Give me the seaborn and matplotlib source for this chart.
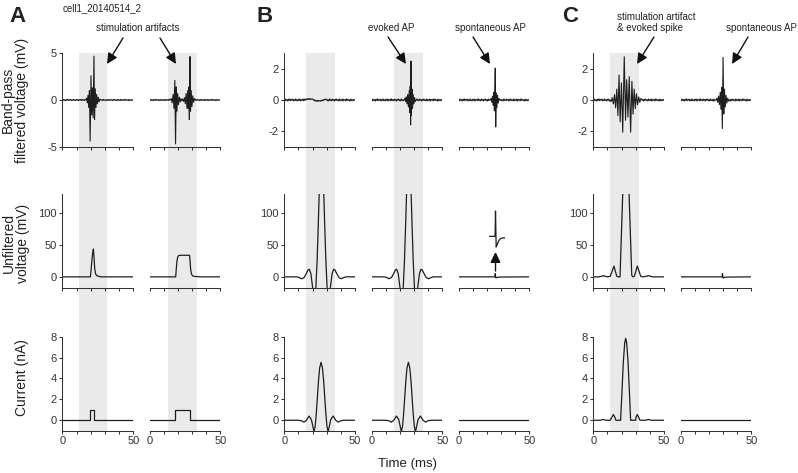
import numpy as np
import matplotlib
matplotlib.use("Agg")
import matplotlib.pyplot as plt
from matplotlib.patches import FancyArrowPatch
import seaborn as sns

sns.set_style("ticks")
plt.rcParams['font.family'] = ['Liberation Sans', 'DejaVu Sans']
plt.rcParams['axes.linewidth'] = 0.75
plt.rcParams['axes.unicode_minus'] = False

W, H = 798, 473

# ---------------- data (time in ms) ----------------
# baseline noise of the band-pass traces, sampled every 0.5 ms
bp_noise = [0.03, -0.05, 0.06, -0.03, 0.02, -0.07, 0.05, -0.02, 0.07, -0.05,
            0.03, -0.01, 0.06, -0.06, 0.02, -0.04, 0.07, -0.04, 0.01, -0.06,
            0.05, -0.02, 0.06, -0.07, 0.03, -0.01, 0.05, -0.05, 0.07, -0.03,
            0.02, -0.05, 0.06, -0.02, 0.03, -0.07, 0.05, -0.01, 0.06, -0.04,
            0.02, -0.06, 0.07, -0.03, 0.01, -0.05, 0.06, -0.07, 0.03, -0.02,
            0.05, -0.06, 0.02, -0.03, 0.07, -0.01, 0.04, -0.07, 0.06, -0.02,
            0.03, -0.05, 0.01, -0.06, 0.07, -0.03, 0.02, -0.05, 0.06, -0.01,
            0.03, -0.07, 0.05, -0.02, 0.06, -0.03, 0.01, -0.06, 0.07, -0.04,
            0.02, -0.03, 0.06, -0.07, 0.04, -0.01, 0.03, -0.06, 0.07, -0.02,
            0.05, -0.03, 0.01, -0.07, 0.06, -0.04, 0.02, -0.05, 0.03, -0.02,
            0.04]

# band-pass filtered voltage (mV): oscillation vertices of each event
a1_bp_t = [16.5, 17.1, 17.6, 18.1, 18.6, 19.1, 19.6, 20.2, 20.7, 21.2, 21.7,
           22.3, 22.7, 23.2, 23.7, 24.2, 24.7, 25.3, 25.9, 26.5, 27.1]
a1_bp_v = [0.0, 0.2, -0.3, 0.5, -0.8, 1.0, -4.4, 2.6, -1.6, 1.3, -1.9,
           4.7, -2.1, 1.2, -0.8, 0.6, -0.4, 0.3, -0.2, 0.1, 0.0]
a2_bp_t = [14.5, 15.2, 15.9, 16.6, 17.2, 17.8, 18.3, 18.8, 19.3, 19.8, 20.4,
           21.0, 21.6, 22.2, 22.8, 23.4, 24.0, 24.6, 25.2, 25.8, 26.4, 26.9,
           27.3, 27.7, 28.1, 28.5, 28.9, 29.4, 29.9, 30.5, 31.1, 31.7, 32.4]
a2_bp_v = [0.0, 0.15, -0.3, 0.6, -0.9, 2.1, -4.7, 1.4, -1.2, 0.7, -0.5,
           0.3, -0.2, 0.15, -0.1, 0.1, -0.15, 0.25, -0.4, 0.7, -0.9, 1.0,
           -0.9, 1.4, -2.1, 4.65, -1.2, 1.0, -0.7, 0.45, -0.25, 0.15, 0.0]
b1_bp_t = np.arange(15.0, 30.5, 0.5)
b1_bp_v = [0.05, 0.01, 0.08, 0.03, 0.10, 0.04, 0.09, 0.02, 0.08, 0.05, 0.07,
           0.0, 0.02, -0.06, -0.01, -0.08, -0.03, -0.09, -0.02, -0.07, -0.04,
           -0.08, -0.01, -0.06, 0.0, -0.04, 0.03, 0.01, 0.06, 0.02, 0.05]
b2_bp_t = [23.0, 23.5, 24.0, 24.5, 25.0, 25.5, 26.0, 26.6, 27.0, 27.3, 27.55,
           27.8, 28.1, 28.5, 28.9, 29.4, 29.9, 30.4, 30.9, 31.5]
b2_bp_v = [0.0, 0.12, -0.1, 0.2, -0.25, 0.35, -0.45, 0.6, -0.8, 0.9, -1.6,
           2.5, -1.0, 0.7, -0.55, 0.35, -0.25, 0.15, -0.1, 0.0]
b3_bp_t = [22.5, 23.0, 23.5, 24.0, 24.5, 24.9, 25.3, 25.6, 25.9, 26.2, 26.6,
           27.0, 27.5, 28.0, 28.6, 29.2]
b3_bp_v = [0.0, 0.1, -0.15, 0.25, -0.35, 0.5, -0.7, 0.6, 2.05, -1.73, 0.45,
           -0.5, 0.3, -0.2, 0.1, 0.0]
c1_bp_t = [12.0, 12.6, 13.4, 14.2, 15.0, 15.8, 16.6, 17.4, 18.2, 19.0, 19.9,
           20.8, 21.9, 22.8, 23.6, 24.5, 25.4, 26.4, 27.3, 28.1, 28.9, 29.7,
           30.5, 31.3, 32.1, 32.9, 33.7, 34.5]
c1_bp_v = [0.0, -0.1, 0.15, -0.25, 0.35, -0.5, 0.7, -1.0, 1.6, -1.4, 1.1,
           -2.07, 2.78, -1.3, 1.3, -1.1, 1.5, -2.07, 1.2, -0.9, 0.7, -0.55,
           0.4, -0.3, 0.2, -0.15, 0.1, 0.0]
c2_bp_t = [25.0, 25.6, 26.2, 26.8, 27.4, 28.0, 28.5, 29.0, 29.5, 30.0, 30.5,
           31.0, 31.5, 32.1, 32.7, 33.3, 34.0, 34.6]
c2_bp_v = [0.0, 0.12, -0.15, 0.25, -0.3, 0.5, -0.6, 0.8, -1.83, 2.74, -0.9,
           0.7, -0.45, 0.3, -0.2, 0.12, -0.08, 0.0]

# unfiltered voltage (mV)
a1_raw_t = [0, 19.8, 20.3, 20.8, 21.3, 21.9, 22.3, 22.8, 23.4, 24.2, 25.5, 27, 50]
a1_raw_v = [0, 0, 12, 25, 36, 44, 32, 14, 5, 2, 1, 0, 0]
a2_raw_t = [0, 18.4, 18.8, 19.3, 19.8, 20.5, 21.5, 28.2, 28.6, 29.0, 29.5,
            30.2, 31.0, 33, 36, 50]
a2_raw_v = [0, 0, 12, 25, 31, 33.5, 34, 34, 25, 12, 5, 2, 1, 0.5, 0, 0]
b_raw_t = [0, 9, 10.5, 12.3, 14, 15.5, 16.8, 17.7, 18.8, 20.1, 21.2, 22.3,
           23.2, 24.0, 24.8, 25.6, 26.3, 27.0, 27.8, 28.6, 29.4, 30.3, 31.4,
           32.5, 33.8, 34.9, 35.8, 37.1, 38.6, 40.3, 42.1, 43.6, 50]
b_raw_v = [0, 0, -1, -3, -1, 5, 11, 12, 5, -18, -30, -18,
           25, 80, 140, 190, 210, 190, 140, 80, 25, -18, -30,
           -18, 5, 12, 11, 5, -1, -3, -1, 0, 0]
b3_raw_t = [0, 25.6, 25.9, 26.2, 26.6, 27.2, 28.5, 50]
b3_raw_v = [0, 0, 5, -1.2, -1.5, -0.8, -0.3, 0]
c1_raw_t = [0, 4, 6, 7, 8.5, 10, 12, 13.5, 14.6, 15.7, 16.6, 17.5, 18.9,
            20.8, 23.05, 25.3, 27.2, 28.1, 29, 30, 31.1, 32.2, 33.5, 35,
            37.5, 38.9, 40.3, 42, 50]
c1_raw_v = [0, 0, 1, 2, 1, 0, 1, 10, 17, 8, 1, 0, 0,
            130, 283, 130, 2, 0, 1, 8, 17, 10, 1, 0,
            1, 2, 1, 0, 0]
c2_raw_t = [0, 29.3, 29.6, 29.9, 30.3, 31.0, 33.0, 50]
c2_raw_v = [0, 0, 5, -1.2, -1.6, -0.8, -0.3, 0]

# magnified spontaneous AP (inset in B, unfiltered row)
spont_zoom_t = [0, 5.5, 5.9, 6.5, 7.3, 8.5, 10, 12, 14.5]
spont_zoom_v = [0, 0, 5.0, -2.1, -1.7, -1.0, -0.5, -0.3, -0.3]

# current (nA)
a1_cur_t = [0, 19.8, 19.8, 22.0, 22.0, 50]
a1_cur_v = [0, 0, 1, 1, 0, 0]
a2_cur_t = [0, 18.2, 18.2, 28.2, 28.2, 50]
a2_cur_v = [0, 0, 1, 1, 0, 0]
b_cur_t = [0, 10, 12.2, 13.9, 15.6, 17.5, 19.2, 20.2, 21.0, 21.8, 22.6, 23.4,
           24.2, 25.0, 26.0, 27.0, 27.8, 28.6, 29.4, 30.2, 31.0, 31.8, 32.8,
           34.5, 36.4, 38.1, 39.8, 42, 50]
b_cur_v = [0, 0, -0.05, -0.18, 0, 0.4, 0.05, -0.6, -1.1, -0.6, 0.6, 2.2,
           3.8, 5.0, 5.55, 5.0, 3.8, 2.2, 0.6, -0.6, -1.1, -0.6, 0.05,
           0.4, 0, -0.18, -0.05, 0, 0]
c1_cur_t = [0, 5, 7, 9, 12, 13.2, 14.2, 15.2, 16, 19.3, 20.2, 21.2, 22.2,
            22.9, 23.6, 24.6, 25.6, 26.4, 30, 30.2, 31.1, 32, 33, 37, 38.9, 41, 50]
c1_cur_v = [0, 0, 0.08, 0, 0, 0.3, 0.55, 0.3, 0, 0, 2.5, 5.5, 7.4,
            7.85, 7.4, 5.5, 2.5, 0, 0, 0.3, 0.55, 0.3, 0, 0, 0.08, 0, 0]
flat_t = [0, 50]
flat_v = [0, 0]

# stimulation windows (ms) for the shaded bands
stim_windows = {"A1": (11.5, 31.7), "A2": (13.2, 33.4), "B1": (15.6, 35.9),
                "B2": (15.8, 36.1), "C1": (11.8, 32.3)}


def with_noise(ev_t, ev_v):
    base_t = np.linspace(0, 50, len(bp_noise))
    base_v = np.array(bp_noise)
    ev_t = np.asarray(ev_t, float)
    keep = (base_t < ev_t[0]) | (base_t > ev_t[-1])
    t = np.concatenate([base_t[keep], ev_t])
    v = np.concatenate([base_v[keep], np.asarray(ev_v, float)])
    o = np.argsort(t, kind="stable")
    return t[o], v[o]


traces = {
    "A1": [with_noise(a1_bp_t, a1_bp_v), (a1_raw_t, a1_raw_v), (a1_cur_t, a1_cur_v)],
    "A2": [with_noise(a2_bp_t, a2_bp_v), (a2_raw_t, a2_raw_v), (a2_cur_t, a2_cur_v)],
    "B1": [with_noise(b1_bp_t, b1_bp_v), (b_raw_t, b_raw_v), (b_cur_t, b_cur_v)],
    "B2": [with_noise(b2_bp_t, b2_bp_v), (b_raw_t, b_raw_v), (b_cur_t, b_cur_v)],
    "B3": [with_noise(b3_bp_t, b3_bp_v), (b3_raw_t, b3_raw_v), (flat_t, flat_v)],
    "C1": [with_noise(c1_bp_t, c1_bp_v), (c1_raw_t, c1_raw_v), (c1_cur_t, c1_cur_v)],
    "C2": [with_noise(c2_bp_t, c2_bp_v), (c2_raw_t, c2_raw_v), (flat_t, flat_v)],
}

# ---------------- layout (pixels, origin top-left) ----------------
col_x = {"A1": (62.3, 133.3), "A2": (149.7, 220.3), "B1": (284.3, 355.0),
         "B2": (371.7, 442.3), "B3": (458.7, 529.3), "C1": (593.3, 664.0),
         "C2": (680.7, 751.3)}
row_y = [(53.3, 146.7), (194.3, 288.3), (336.7, 430.7)]
first_cols = ["A1", "B1", "C1"]


def box(x0, y0, x1, y1):
    return [x0 / W, 1 - y1 / H, (x1 - x0) / W, (y1 - y0) / H]


def fp(x, y):
    return (x / W, 1 - y / H)


fig = plt.figure(figsize=(W / 100, H / 100), dpi=100)

# shaded stimulation bands spanning all three rows
for name, win in stim_windows.items():
    x0, x1 = col_x[name]
    bg = fig.add_axes(box(x0, row_y[0][0], x1, row_y[2][1]), zorder=0)
    bg.set_xlim(0, 50)
    bg.axvspan(win[0], win[1], color="#eaeaea", lw=0)
    bg.axis("off")

ink = "#1e1e1e"
for name, (x0, x1) in col_x.items():
    for r, (y0, y1) in enumerate(row_y):
        ax = fig.add_axes(box(x0, y0, x1, y1), zorder=1)
        ax.patch.set_alpha(0)
        t, v = traces[name][r]
        sns.lineplot(x=np.asarray(t, float), y=np.asarray(v, float), ax=ax,
                     estimator=None, sort=False, color=ink,
                     lw=0.8 if r == 0 else 0.9)
        ax.set_xlim(0, 50)
        if r == 0:
            if name.startswith("A"):
                ax.set_ylim(-5, 5)
                ax.set_yticks([-5, 0, 5])
            else:
                ax.set_ylim(-3, 3)
                ax.set_yticks([-2, 0, 2])
        elif r == 1:
            ax.set_ylim(-18, 130)
            ax.set_yticks([0, 50, 100])
        else:
            ax.set_ylim(-1, 8)
            ax.set_yticks([0, 2, 4, 6, 8])
        ax.set_xticks([0, 10, 20, 30, 40, 50])
        if r == 2:
            ax.set_xticklabels(["0", "", "", "", "", "50"])
        else:
            ax.set_xticklabels([])
        ax.set_xlabel("")
        ax.set_ylabel("")
        for s in ["top", "right"]:
            ax.spines[s].set_visible(False)
        for s in ["left", "bottom"]:
            ax.spines[s].set_color("#333333")
            ax.spines[s].set_linewidth(0.75)
        if name not in first_cols:
            ax.spines["left"].set_visible(False)
            ax.tick_params(axis="y", left=False, labelleft=False)
        ax.tick_params(direction="out", length=2.4, width=0.75, pad=1.5,
                       labelsize=8, colors="#333333")

# inset: magnified spontaneous AP
ins = fig.add_axes(box(489, 210, 505, 248), zorder=2)
sns.lineplot(x=np.asarray(spont_zoom_t, float), y=np.asarray(spont_zoom_v, float),
             ax=ins, estimator=None, sort=False, color=ink, lw=0.9)
ins.set_xlim(0, 14.5)
ins.set_ylim(-2.3, 5.2)
ins.axis("off")

# ---------------- text ----------------
txt = "#222222"
fig.text(*fp(18, 17), "A", fontsize=16, fontweight="bold", ha="center", va="center", color=txt)
fig.text(*fp(265, 17), "B", fontsize=16, fontweight="bold", ha="center", va="center", color=txt)
fig.text(*fp(570, 17), "C", fontsize=16, fontweight="bold", ha="center", va="center", color=txt)
fig.text(*fp(63, 8.5), "cell1_20140514_2", fontsize=7, ha="left", va="center", color=txt)

fig.text(*fp(138, 28), "stimulation artifacts", fontsize=7, ha="center", va="center", color=txt)
fig.text(*fp(391, 28), "evoked AP", fontsize=7, ha="center", va="center", color=txt)
fig.text(*fp(490, 28), "spontaneous AP", fontsize=7, ha="center", va="center", color=txt)
fig.text(*fp(617, 22.5), "stimulation artifact\n& evoked spike", fontsize=7,
         ha="left", va="center", color=txt, linespacing=1.2)
fig.text(*fp(761, 28), "spontaneous AP", fontsize=7, ha="center", va="center", color=txt)

fig.text(*fp(15, 100), "Band-pass\nfiltered voltage (mV)", fontsize=10, rotation=90,
         ha="center", va="center", color=txt, linespacing=1.05)
fig.text(*fp(16, 243), "Unfiltered\nvoltage (mV)", fontsize=10, rotation=90,
         ha="center", va="center", color=txt, linespacing=1.05)
fig.text(*fp(22, 378), "Current (nA)", fontsize=10, rotation=90,
         ha="center", va="center", color=txt)
fig.text(*fp(407, 464), "Time (ms)", fontsize=9.5, ha="center", va="center", color=txt)

arrows = [((123, 38), (107, 64)), ((160, 38), (176, 64)),
          ((388, 37), (406, 64)), ((473, 37), (490, 64)),
          ((654, 37), (637, 64)), ((748, 37), (732, 64)),
          ((495.5, 271), (495.5, 252))]
for a, b in arrows:
    fig.add_artist(FancyArrowPatch(fp(*a), fp(*b), transform=fig.transFigure,
                                   arrowstyle="-|>,head_length=0.45,head_width=0.22",
                                   mutation_scale=14, lw=1.0, color="#111111",
                                   shrinkA=0, shrinkB=0))

fig.savefig("out.png", dpi=100)
